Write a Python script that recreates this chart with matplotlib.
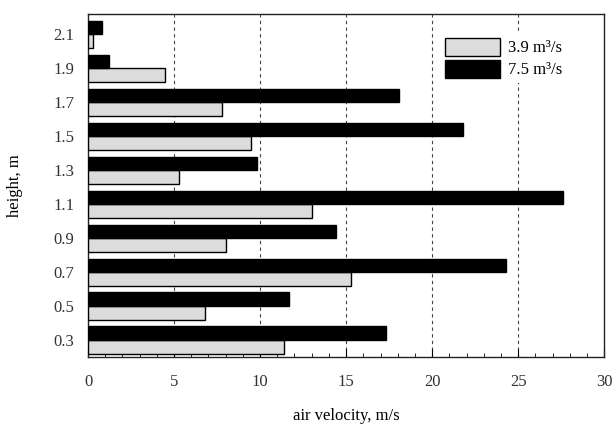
import numpy as np
import matplotlib
matplotlib.use("Agg")
import matplotlib.pyplot as plt
from matplotlib.ticker import MultipleLocator

plt.rcParams['font.family'] = ['Liberation Serif', 'DejaVu Serif']

heights = [0.3, 0.5, 0.7, 0.9, 1.1, 1.3, 1.5, 1.7, 1.9, 2.1]
low_flow = [11.4, 6.8, 15.3, 8.0, 13.0, 5.3, 9.5, 7.8, 4.5, 0.3]    # 3.9 m3/s
high_flow = [17.3, 11.7, 24.3, 14.4, 27.6, 9.8, 21.8, 18.1, 1.2, 0.8]  # 7.5 m3/s
labels = ['3.9 m\u00b3/s', '7.5 m\u00b3/s']

fig = plt.figure(figsize=(6.13, 4.26), dpi=100)
ax = fig.add_axes([0.1436, 0.162, 0.842, 0.805])

y = np.array(heights)
h = 0.08
ax.barh(y - h / 2, low_flow, height=h, color='#dcdcdc', edgecolor='black', linewidth=1.0, label=labels[0], zorder=3)
ax.barh(y + h / 2, high_flow, height=h, color='black', edgecolor='black', linewidth=1.0, label=labels[1], zorder=3)

ax.set_xlim(0, 30)
ax.set_ylim(0.2, 2.22)
ax.set_yticks(heights)
ax.set_yticklabels(['%.1f' % v for v in heights])
ax.xaxis.set_major_locator(MultipleLocator(5))
ax.xaxis.set_minor_locator(MultipleLocator(1))
ax.tick_params(axis='x', which='major', direction='in', length=6, pad=12, labelsize=12, labelcolor='#333333')
ax.tick_params(axis='x', which='minor', direction='in', length=3)
ax.tick_params(axis='y', length=0, pad=10, labelsize=12, labelcolor='#333333')

for v in [5, 10, 15, 20, 25]:
    ax.axvline(v, color='#444444', linestyle=(0, (3, 3)), linewidth=0.8, zorder=1)

for s in ax.spines.values():
    s.set_linewidth(1.0)
    s.set_color('#222222')

ax.set_xlabel('air velocity, m/s', fontsize=12, labelpad=13)
ax.set_ylabel('height, m', fontsize=12, labelpad=22)

leg = ax.legend(loc='upper right', bbox_to_anchor=(0.945, 0.97), frameon=True, fontsize=12,
                handlelength=3.3, handleheight=1.3, labelspacing=0.2, handletextpad=0.5,
                fancybox=False, framealpha=1.0, facecolor='white', edgecolor='none', borderpad=0.3)
leg.set_zorder(5)

fig.savefig('out.png', dpi=100)
